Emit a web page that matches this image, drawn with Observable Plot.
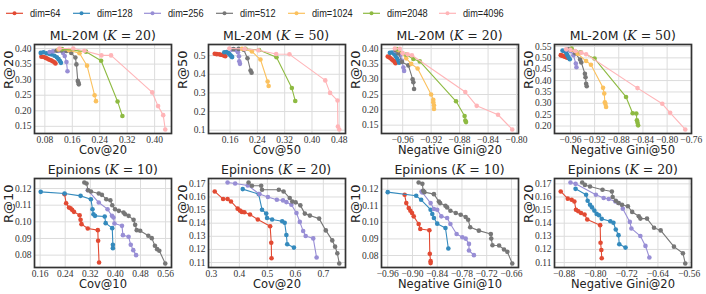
<!DOCTYPE html>
<html><head><meta charset="utf-8">
<script src="https://cdn.jsdelivr.net/npm/d3@7"></script>
<script src="https://cdn.jsdelivr.net/npm/@observablehq/plot@0.6"></script>
<style>
body{margin:0;background:#fff;}
#fig{position:relative;width:706px;height:294px;overflow:hidden;background:#fff;}
</style></head><body><div id="fig"></div>
<script>
const dims = [64, 128, 256, 512, 1024, 2048, 4096];
const palette = ["#E24A33", "#348ABD", "#988ED5", "#777777", "#FBC15E", "#8EBA42", "#FFB5B8"];

// ML-20M, K = 20 : x = Cov@20, y = R@20 (one [x, y] list per dim)
const ml20mCov20 = [
  [[0.070,0.374],[0.077,0.373],[0.083,0.370],[0.088,0.367],[0.093,0.364],[0.098,0.362],[0.103,0.359],[0.108,0.356],[0.111,0.352]],
  [[0.068,0.386],[0.076,0.388],[0.085,0.385],[0.093,0.383],[0.100,0.381],[0.108,0.377],[0.115,0.372],[0.120,0.366],[0.124,0.360],[0.127,0.354]],
  [[0.094,0.389],[0.104,0.391],[0.119,0.392],[0.133,0.386],[0.138,0.376],[0.143,0.357],[0.146,0.327]],
  [[0.114,0.393],[0.128,0.394],[0.143,0.392],[0.157,0.386],[0.169,0.371],[0.172,0.349],[0.176,0.296],[0.178,0.290],[0.179,0.285]],
  [[0.120,0.397],[0.150,0.395],[0.181,0.385],[0.203,0.345],[0.225,0.250],[0.229,0.231]],
  [[0.130,0.398],[0.200,0.390],[0.244,0.361],[0.292,0.230],[0.306,0.183]],
  [[0.123,0.400],[0.163,0.400],[0.195,0.393],[0.245,0.378],[0.273,0.378],[0.393,0.259],[0.410,0.215],[0.425,0.186],[0.431,0.140]]
];
// ML-20M, K = 50 : x = Cov@50, y = R@50
const ml20mCov50 = [
  [[0.115,0.510],[0.121,0.508],[0.128,0.507],[0.133,0.505],[0.138,0.503],[0.143,0.500],[0.146,0.497]],
  [[0.143,0.518],[0.150,0.519],[0.155,0.514],[0.158,0.508],[0.161,0.502],[0.164,0.496],[0.166,0.492]],
  [[0.165,0.532],[0.176,0.530],[0.183,0.518],[0.186,0.497],[0.187,0.470],[0.189,0.456]],
  [[0.170,0.535],[0.185,0.536],[0.200,0.532],[0.211,0.486],[0.220,0.420],[0.223,0.408]],
  [[0.195,0.537],[0.224,0.522],[0.249,0.479],[0.270,0.361],[0.273,0.337]],
  [[0.205,0.537],[0.245,0.530],[0.296,0.491],[0.341,0.326],[0.351,0.257]],
  [[0.158,0.538],[0.203,0.536],[0.243,0.529],[0.295,0.509],[0.334,0.507],[0.439,0.367],[0.453,0.300],[0.475,0.259],[0.476,0.120],[0.480,0.104]]
];
// ML-20M, K = 20 : x = Negative Gini@20, y = R@20
const ml20mGini20 = [
  [[-0.981,0.374],[-0.979,0.372],[-0.977,0.368],[-0.975,0.364],[-0.973,0.360],[-0.971,0.356],[-0.970,0.352]],
  [[-0.978,0.386],[-0.975,0.387],[-0.972,0.382],[-0.970,0.376],[-0.968,0.368],[-0.966,0.360],[-0.965,0.354]],
  [[-0.970,0.392],[-0.966,0.390],[-0.963,0.380],[-0.961,0.360],[-0.959,0.338],[-0.958,0.327]],
  [[-0.970,0.395],[-0.966,0.385],[-0.961,0.356],[-0.952,0.345],[-0.946,0.300],[-0.945,0.290],[-0.944,0.268]],
  [[-0.966,0.395],[-0.955,0.368],[-0.948,0.350],[-0.939,0.335],[-0.920,0.250],[-0.917,0.233],[-0.917,0.225],[-0.916,0.215],[-0.916,0.203]],
  [[-0.968,0.398],[-0.955,0.380],[-0.945,0.366],[-0.936,0.358],[-0.885,0.228],[-0.873,0.180],[-0.872,0.165],[-0.871,0.160]],
  [[-0.971,0.400],[-0.964,0.399],[-0.960,0.385],[-0.953,0.381],[-0.947,0.378],[-0.872,0.258],[-0.856,0.213],[-0.826,0.184],[-0.806,0.136]]
];
// ML-20M, K = 50 : x = Negative Gini@50, y = R@50
const ml20mGini50 = [
  [[-0.976,0.512],[-0.974,0.510],[-0.972,0.508],[-0.970,0.506],[-0.968,0.504],[-0.966,0.502],[-0.964,0.500]],
  [[-0.973,0.532],[-0.970,0.530],[-0.967,0.522],[-0.965,0.512],[-0.963,0.502],[-0.961,0.494]],
  [[-0.966,0.536],[-0.960,0.530],[-0.955,0.512],[-0.951,0.475],[-0.950,0.459]],
  [[-0.963,0.538],[-0.952,0.520],[-0.944,0.493],[-0.942,0.480],[-0.936,0.430],[-0.935,0.415],[-0.934,0.386],[-0.933,0.375]],
  [[-0.958,0.536],[-0.948,0.518],[-0.934,0.486],[-0.926,0.470],[-0.906,0.368],[-0.904,0.343],[-0.903,0.305],[-0.902,0.297],[-0.901,0.284]],
  [[-0.958,0.541],[-0.943,0.525],[-0.920,0.497],[-0.868,0.328],[-0.857,0.256],[-0.851,0.255],[-0.850,0.225],[-0.849,0.215],[-0.848,0.203]],
  [[-0.967,0.538],[-0.960,0.536],[-0.952,0.530],[-0.942,0.523],[-0.934,0.516],[-0.849,0.367],[-0.808,0.298],[-0.795,0.258],[-0.770,0.185]]
];
// Epinions, K = 10 : x = Cov@10, y = R@10
const epinionsCov10 = [
  [[0.238,0.1166],[0.243,0.1112],[0.252,0.1086],[0.257,0.1082],[0.262,0.1072],[0.268,0.1060],[0.286,0.1040],[0.289,0.1012],[0.292,0.0986],[0.312,0.0960],[0.344,0.0950],[0.345,0.0886],[0.348,0.0756]],
  [[0.162,0.1180],[0.238,0.1170],[0.289,0.1156],[0.322,0.1136],[0.327,0.1076],[0.330,0.1046],[0.335,0.1036],[0.366,0.1032],[0.369,0.0992],[0.390,0.0962],[0.392,0.0862],[0.392,0.0842]],
  [[0.312,0.1190],[0.347,0.1116],[0.375,0.1076],[0.389,0.1036],[0.394,0.1026],[0.397,0.0990],[0.421,0.0976],[0.424,0.0920],[0.442,0.0910],[0.449,0.0862],[0.457,0.0830],[0.466,0.0800]],
  [[0.301,0.1236],[0.308,0.1230],[0.313,0.1190],[0.322,0.1182],[0.347,0.1170],[0.357,0.1162],[0.371,0.1136],[0.384,0.1130],[0.390,0.1100],[0.399,0.1076],[0.411,0.1066],[0.426,0.1056],[0.431,0.1046],[0.442,0.1036],[0.458,0.1012],[0.463,0.0982],[0.468,0.0950],[0.479,0.0946],[0.505,0.0916],[0.516,0.0902],[0.526,0.0856],[0.533,0.0836],[0.540,0.0826],[0.559,0.0750]]
];
// Epinions, K = 20 : x = Cov@20, y = R@20
const epinionsCov20 = [
  [[0.312,0.1642],[0.342,0.1584],[0.358,0.1584],[0.370,0.1566],[0.394,0.1511],[0.402,0.1496],[0.409,0.1486],[0.418,0.1483],[0.438,0.1466],[0.466,0.1428],[0.510,0.1377],[0.514,0.1251],[0.515,0.1133]],
  [[0.412,0.1660],[0.469,0.1622],[0.481,0.1503],[0.496,0.1473],[0.499,0.1440],[0.517,0.1428],[0.553,0.1415],[0.562,0.1403],[0.568,0.1310],[0.571,0.1239],[0.595,0.1214]],
  [[0.358,0.1710],[0.385,0.1703],[0.430,0.1688],[0.472,0.1622],[0.502,0.1600],[0.534,0.1579],[0.556,0.1574],[0.568,0.1561],[0.586,0.1541],[0.604,0.1478],[0.616,0.1410],[0.628,0.1340],[0.637,0.1302],[0.664,0.1284],[0.676,0.1138]],
  [[0.433,0.1710],[0.445,0.1685],[0.478,0.1685],[0.481,0.1655],[0.541,0.1655],[0.558,0.1642],[0.580,0.1592],[0.589,0.1566],[0.601,0.1559],[0.618,0.1536],[0.634,0.1473],[0.652,0.1458],[0.685,0.1435],[0.709,0.1345],[0.732,0.1269],[0.742,0.1221],[0.750,0.1171],[0.757,0.1093]]
];
// Epinions, K = 10 : x = Negative Gini@10, y = R@10
const epinionsGini10 = [
  [[-0.919,0.1166],[-0.915,0.1116],[-0.909,0.1086],[-0.905,0.1070],[-0.901,0.1056],[-0.897,0.1036],[-0.885,0.0990],[-0.881,0.0960],[-0.859,0.0952],[-0.858,0.0810],[-0.856,0.0766],[-0.856,0.0754]],
  [[-0.960,0.1182],[-0.891,0.1160],[-0.879,0.1136],[-0.856,0.1076],[-0.852,0.1050],[-0.848,0.1026],[-0.840,0.0992],[-0.820,0.0966],[-0.813,0.0842]],
  [[-0.878,0.1186],[-0.876,0.1180],[-0.856,0.1116],[-0.848,0.1080],[-0.840,0.1076],[-0.830,0.1036],[-0.816,0.1026],[-0.808,0.0990],[-0.793,0.0930],[-0.779,0.0910],[-0.771,0.0902],[-0.763,0.0870],[-0.763,0.0830],[-0.751,0.0802]],
  [[-0.885,0.1240],[-0.876,0.1232],[-0.874,0.1190],[-0.871,0.1182],[-0.848,0.1170],[-0.836,0.1126],[-0.833,0.1116],[-0.820,0.1100],[-0.816,0.1090],[-0.808,0.1070],[-0.795,0.1056],[-0.783,0.1046],[-0.771,0.1032],[-0.765,0.1016],[-0.760,0.0970],[-0.739,0.0950],[-0.710,0.0930],[-0.709,0.0902],[-0.706,0.0862],[-0.690,0.0860],[-0.678,0.0836],[-0.670,0.0822],[-0.658,0.0752]]
];
// Epinions, K = 20 : x = Negative Gini@20, y = R@20
const epinionsGini20 = [
  [[-0.889,0.1642],[-0.871,0.1587],[-0.861,0.1579],[-0.854,0.1566],[-0.850,0.1503],[-0.844,0.1491],[-0.837,0.1478],[-0.828,0.1466],[-0.821,0.1428],[-0.788,0.1385],[-0.787,0.1251],[-0.785,0.1196],[-0.784,0.1133]],
  [[-0.851,0.1662],[-0.824,0.1617],[-0.820,0.1571],[-0.814,0.1541],[-0.809,0.1521],[-0.803,0.1496],[-0.797,0.1471],[-0.791,0.1461],[-0.784,0.1433],[-0.762,0.1415],[-0.754,0.1403],[-0.748,0.1352],[-0.741,0.1309],[-0.739,0.1239],[-0.723,0.1214]],
  [[-0.864,0.1710],[-0.851,0.1700],[-0.799,0.1617],[-0.779,0.1592],[-0.766,0.1584],[-0.749,0.1566],[-0.741,0.1554],[-0.730,0.1511],[-0.712,0.1410],[-0.708,0.1360],[-0.685,0.1302],[-0.672,0.1227],[-0.662,0.1138]],
  [[-0.834,0.1710],[-0.827,0.1692],[-0.814,0.1680],[-0.782,0.1655],[-0.758,0.1642],[-0.756,0.1600],[-0.748,0.1571],[-0.741,0.1554],[-0.732,0.1541],[-0.717,0.1529],[-0.706,0.1486],[-0.689,0.1453],[-0.685,0.1435],[-0.668,0.1435],[-0.650,0.1365],[-0.633,0.1345],[-0.599,0.1221],[-0.576,0.1171],[-0.570,0.1093]]
];

// tick values
const ticksCov20 = [0.08, 0.16, 0.24, 0.32, 0.40];
const ticksCov50 = [0.16, 0.24, 0.32, 0.40, 0.48];
const ticksGini20 = [-0.96, -0.92, -0.88, -0.84, -0.80];
const ticksGini50 = [-0.96, -0.92, -0.88, -0.84, -0.80, -0.76];
const ticksR20ml = [0.15, 0.20, 0.25, 0.30, 0.35, 0.40];
const ticksR50ml = [0.1, 0.2, 0.3, 0.4, 0.5];
const ticksR50mlG = [0.20, 0.25, 0.30, 0.35, 0.40, 0.45, 0.50, 0.55];
const ticksCov10ep = [0.16, 0.24, 0.32, 0.40, 0.48, 0.56];
const ticksCov20ep = [0.3, 0.4, 0.5, 0.6, 0.7];
const ticksGini10ep = [-0.96, -0.90, -0.84, -0.78, -0.72, -0.66];
const ticksGini20ep = [-0.88, -0.80, -0.72, -0.64, -0.56];
const ticksR10ep = [0.08, 0.09, 0.10, 0.11, 0.12];
const ticksR20ep = [0.11, 0.12, 0.13, 0.14, 0.15, 0.16, 0.17];

const panels = [
  {data: ml20mCov20, name: "ML-20M", k: 20, xLabel: "Cov@20", yLabel: "R@20", xTicks: ticksCov20, yTicks: ticksR20ml, xFmt: ".2f", yFmt: ".2f"},
  {data: ml20mCov50, name: "ML-20M", k: 50, xLabel: "Cov@50", yLabel: "R@50", xTicks: ticksCov50, yTicks: ticksR50ml, xFmt: ".2f", yFmt: ".1f"},
  {data: ml20mGini20, name: "ML-20M", k: 20, xLabel: "Negative Gini@20", yLabel: "R@20", xTicks: ticksGini20, yTicks: ticksR20ml, xFmt: ".2f", yFmt: ".2f"},
  {data: ml20mGini50, name: "ML-20M", k: 50, xLabel: "Negative Gini@50", yLabel: "R@50", xTicks: ticksGini50, yTicks: ticksR50mlG, xFmt: ".2f", yFmt: ".2f"},
  {data: epinionsCov10, name: "Epinions", k: 10, xLabel: "Cov@10", yLabel: "R@10", xTicks: ticksCov10ep, yTicks: ticksR10ep, xFmt: ".2f", yFmt: ".2f"},
  {data: epinionsCov20, name: "Epinions", k: 20, xLabel: "Cov@20", yLabel: "R@20", xTicks: ticksCov20ep, yTicks: ticksR20ep, xFmt: ".1f", yFmt: ".2f"},
  {data: epinionsGini10, name: "Epinions", k: 10, xLabel: "Negative Gini@10", yLabel: "R@10", xTicks: ticksGini10ep, yTicks: ticksR10ep, xFmt: ".2f", yFmt: ".2f"},
  {data: epinionsGini20, name: "Epinions", k: 20, xLabel: "Negative Gini@20", yLabel: "R@20", xTicks: ticksGini20ep, yTicks: ticksR20ep, xFmt: ".2f", yFmt: ".2f"}
];

// ---- layout ----
const fig = document.getElementById("fig");
const PL = [34.3, 207.65, 381, 554.35];
const ROWTOP = [43.5, 177.5];
const PW = 137, PH = 89;
const ML = 34, MR = 4, MT = 4, MB = 26;
const ext = (a) => { const [lo, hi] = d3.extent(a); const m = (hi - lo) * 0.05; return [lo - m, hi + m]; };

panels.forEach((p, i) => {
  const col = i % 4, row = Math.floor(i / 4);
  const rows = p.data.flatMap((pts, k) => pts.map(([x, y]) => ({k, dim: dims[k], x, y})));
  const marks = [
    Plot.gridX({ticks: p.xTicks, stroke: "#dcdcdc", strokeOpacity: 1, strokeWidth: 1}),
    Plot.gridY({ticks: p.yTicks, stroke: "#dcdcdc", strokeOpacity: 1, strokeWidth: 1})
  ];
  p.data.forEach((pts, k) => {
    const d = rows.filter(r => r.k === k);
    marks.push(Plot.line(d, {x: "x", y: "y", stroke: palette[k], strokeWidth: 1.1}));
    marks.push(Plot.dot(d, {x: "x", y: "y", fill: palette[k], r: 2.3}));
  });
  marks.push(Plot.frame({stroke: "#333", strokeWidth: 1.7}));
  marks.push(Plot.axisX({ticks: p.xTicks, tickFormat: d3.format(p.xFmt), tickSize: 0, tickPadding: 2.5, fontFamily: "Liberation Serif", fontSize: 9.5, fill: "#333", label: null}));
  marks.push(Plot.axisY({ticks: p.yTicks, tickFormat: d3.format(p.yFmt), tickSize: 0, tickPadding: 3, fontFamily: "Liberation Serif", fontSize: 9.5, fill: "#333", label: null}));
  marks.push(Plot.text([p.xLabel], {text: d => d, frameAnchor: "bottom", dy: 17, fontFamily: "DejaVu Sans", fontSize: 11.5, fill: "#222", lineAnchor: "middle"}));
  marks.push(Plot.text([p.yLabel], {text: d => d, frameAnchor: "left", dx: -25.5, rotate: -90, fontFamily: "DejaVu Sans", fontSize: 13, fill: "#222", lineAnchor: "middle"}));
  const svg = Plot.plot({
    width: ML + PW + MR, height: MT + PH + MB,
    marginLeft: ML, marginRight: MR, marginTop: MT, marginBottom: MB,
    x: {domain: ext(rows.map(r => r.x))},
    y: {domain: ext(rows.map(r => r.y))},
    style: {overflow: "visible", background: "transparent"},
    marks
  });
  svg.style.position = "absolute";
  svg.style.left = (PL[col] - ML) + "px";
  svg.style.top = (ROWTOP[row] - MT) + "px";
  fig.appendChild(svg);

  const t = document.createElement("div");
  t.style.cssText = `position:absolute;left:${PL[col] - 30}px;width:${PW + 60}px;top:${ROWTOP[row] - 13.5}px;text-align:center;font:12.5px 'DejaVu Sans';color:#222;white-space:nowrap;line-height:12px;`;
  t.innerHTML = `${p.name} (<span style="font-family:'DejaVu Serif';font-style:italic">K</span><span style="font-family:'DejaVu Serif'"> = ${p.k}</span>)`;
  fig.appendChild(t);
});

// ---- legend ----
const legendTextX = [30, 97, 168, 240, 312, 387, 463];
const NS = "http://www.w3.org/2000/svg";
const lg = document.createElementNS(NS, "svg");
lg.setAttribute("width", 706); lg.setAttribute("height", 26);
lg.style.cssText = "position:absolute;left:0;top:0;";
dims.forEach((dim, k) => {
  const x = legendTextX[k];
  const ln = document.createElementNS(NS, "line");
  ln.setAttribute("x1", x - 24); ln.setAttribute("x2", x - 7);
  ln.setAttribute("y1", 13.3); ln.setAttribute("y2", 13.3);
  ln.setAttribute("stroke", palette[k]); ln.setAttribute("stroke-width", 1.2);
  lg.appendChild(ln);
  const c = document.createElementNS(NS, "circle");
  c.setAttribute("cx", x - 15.5); c.setAttribute("cy", 13.3); c.setAttribute("r", 2);
  c.setAttribute("fill", palette[k]);
  lg.appendChild(c);
  const tx = document.createElementNS(NS, "text");
  tx.setAttribute("x", x); tx.setAttribute("y", 13.3);
  tx.setAttribute("dominant-baseline", "central");
  tx.setAttribute("font-family", "Liberation Sans");
  tx.setAttribute("font-size", 11.5);
  tx.setAttribute("fill", "#222");
  tx.setAttribute("transform", `translate(${x},0) scale(0.8,1) translate(${-x},0)`);
  tx.textContent = "dim=" + dim;
  lg.appendChild(tx);
});
fig.appendChild(lg);
</script></body></html>
